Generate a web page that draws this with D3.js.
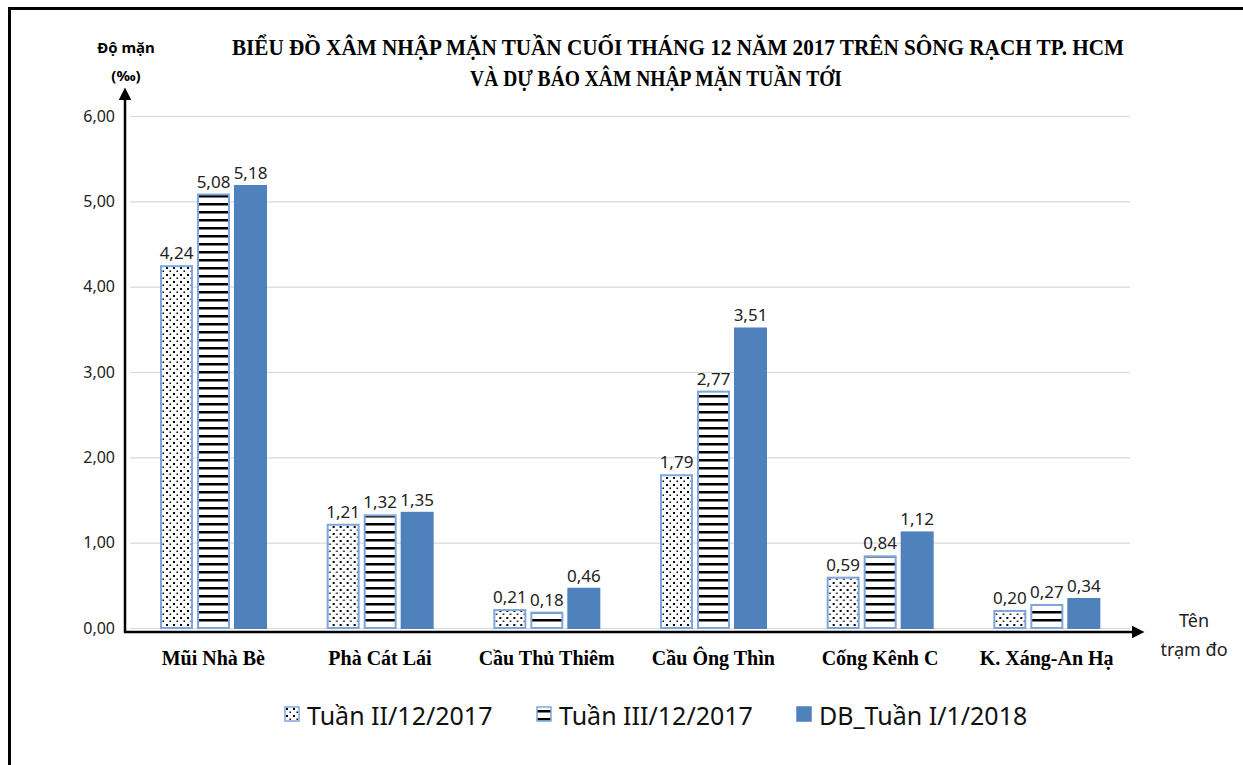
<!DOCTYPE html>
<html>
<head>
<meta charset="utf-8">
<script src="https://cdn.jsdelivr.net/npm/d3@7"></script>
<style>
  body { margin: 0; background: #fff; }
  svg { display: block; }
</style>
</head>
<body>
<div id="chart"></div>
<script>

// data
var stations = ["Mũi Nhà Bè", "Phà Cát Lái", "Cầu Thủ Thiêm", "Cầu Ông Thìn", "Cống Kênh C", "K. Xáng-An Hạ"];
var seriesNames = ["Tuần II/12/2017", "Tuần III/12/2017", "DB_Tuần I/1/2018"];
var week2 = [4.24, 1.21, 0.21, 1.79, 0.59, 0.20];
var week3 = [5.08, 1.32, 0.18, 2.77, 0.84, 0.27];
var forecast = [5.18, 1.35, 0.46, 3.51, 1.12, 0.34];
var yTicks = [0, 1, 2, 3, 4, 5, 6];
var titleLines = ["BIỂU ĐỒ XÂM NHẬP MẶN TUẦN CUỐI THÁNG 12 NĂM 2017 TRÊN SÔNG RẠCH TP. HCM",
                  "VÀ DỰ BÁO XÂM NHẬP MẶN TUẦN TỚI"];

var W = 1243, H = 765;
var sans = "'Noto Sans', 'Open Sans', sans-serif";
var serif = "'Liberation Serif', 'Times New Roman', serif";
var blue = "#4f81bd";
var lightBlue = "#7ea6dc";

var svg = d3.select("#chart").append("svg")
    .attr("width", W)
    .attr("height", H);

// patterns
var defs = svg.append("defs");

var dots = defs.append("pattern")
    .attr("id", "dots")
    .attr("patternUnits", "userSpaceOnUse")
    .attr("width", 7).attr("height", 7);
dots.append("rect").attr("width", 7).attr("height", 7).attr("fill", "#fff");
dots.append("rect").attr("x", 1).attr("y", 1).attr("width", 2).attr("height", 2).attr("fill", "#000");
dots.append("rect").attr("x", 4.5).attr("y", 4.5).attr("width", 1.5).attr("height", 1.5).attr("fill", "#000");

var stripes = defs.append("pattern")
    .attr("id", "stripes")
    .attr("patternUnits", "userSpaceOnUse")
    .attr("width", 8).attr("height", 8);
stripes.append("rect").attr("width", 8).attr("height", 8).attr("fill", "#fff");
stripes.append("rect").attr("y", 3).attr("width", 8).attr("height", 2.5).attr("fill", "#000");

var fills = ["url(#dots)", "url(#stripes)", blue];
var strokes = [lightBlue, lightBlue, blue];

// frame
svg.append("path")
    .attr("d", "M9.5,765 L9.5,8.5 L1243,8.5")
    .attr("fill", "none")
    .attr("stroke", "#000")
    .attr("stroke-width", 3);

// scales
var x = d3.scaleBand()
    .domain(stations)
    .range([130, 1130]);

var x1 = d3.scaleBand()
    .domain(d3.range(3))
    .range([31, 136])
    .paddingInner(0.162);

var y = d3.scaleLinear()
    .domain([0, 6])
    .range([628, 116]);

// gridlines
svg.append("g")
    .selectAll("line")
    .data(yTicks)
    .join("line")
    .attr("x1", 130)
    .attr("x2", 1130)
    .attr("y1", function (d) { return y(d) + 0.5; })
    .attr("y2", function (d) { return y(d) + 0.5; })
    .attr("stroke", "#d9d9d9")
    .attr("stroke-width", 1.2);

// y tick labels
var yAxis = svg.append("g")
    .attr("transform", "translate(125,0)")
    .call(d3.axisLeft(y).tickValues(yTicks).tickSize(0).tickPadding(10)
        .tickFormat(function (d) { return d3.format(".2f")(d).replace(".", ","); }));
yAxis.select(".domain").remove();
yAxis.selectAll("text")
    .style("font-family", sans)
    .style("font-size", "16px")
    .attr("fill", "#222");

// bars
var series = [week2, week3, forecast];
var groups = svg.append("g")
    .selectAll("g")
    .data(stations)
    .join("g")
    .attr("transform", function (d) { return "translate(" + x(d) + ",0)"; });

groups.selectAll("rect")
    .data(function (d, i) { return series.map(function (s, k) { return { k: k, v: s[i] }; }); })
    .join("rect")
    .attr("x", function (d) { return x1(d.k); })
    .attr("width", x1.bandwidth())
    .attr("y", function (d) { return y(d.v); })
    .attr("height", function (d) { return y(0) - y(d.v); })
    .attr("fill", function (d) { return fills[d.k]; })
    .attr("stroke", function (d) { return strokes[d.k]; })
    .attr("stroke-width", 2);

groups.selectAll("text")
    .data(function (d, i) { return series.map(function (s, k) { return { k: k, v: s[i] }; }); })
    .join("text")
    .attr("x", function (d) { return x1(d.k) + x1.bandwidth() / 2; })
    .attr("y", function (d) { return y(d.v) - 7; })
    .attr("text-anchor", "middle")
    .style("font-family", sans)
    .style("font-size", "17px")
    .attr("fill", "#222")
    .text(function (d) { return d3.format(".2f")(d.v).replace(".", ","); });

// axes with arrows
defs.append("marker")
    .attr("id", "arrow")
    .attr("viewBox", "0 0 10 10")
    .attr("refX", 0).attr("refY", 5)
    .attr("markerWidth", 5).attr("markerHeight", 5)
    .attr("markerUnits", "strokeWidth")
    .attr("orient", "auto")
    .append("path")
    .attr("d", "M0,0 L10,5 L0,10 z")
    .attr("fill", "#000");

svg.append("line")
    .attr("x1", 125).attr("y1", 633)
    .attr("x2", 125).attr("y2", 100)
    .attr("stroke", "#000").attr("stroke-width", 2.5)
    .attr("marker-end", "url(#arrow)");

svg.append("line")
    .attr("x1", 124).attr("y1", 632)
    .attr("x2", 1132).attr("y2", 632)
    .attr("stroke", "#000").attr("stroke-width", 2.5)
    .attr("marker-end", "url(#arrow)");

// category labels
svg.append("g")
    .selectAll("text")
    .data(stations)
    .join("text")
    .attr("x", function (d) { return x(d) + x.bandwidth() / 2; })
    .attr("y", 665)
    .attr("text-anchor", "middle")
    .style("font-family", serif)
    .style("font-weight", "bold")
    .style("font-size", "20px")
    .text(function (d) { return d; });

// title: squeeze each line to its width in the picture
var titleX = [678, 656];
var titleY = [55, 86];
var titleW = [893, 372];
var title = svg.append("g")
    .selectAll("text")
    .data(titleLines)
    .join("text")
    .attr("text-anchor", "middle")
    .style("font-family", serif)
    .style("font-weight", "bold")
    .style("font-size", "24px")
    .text(function (d) { return d; });

title.attr("transform", function (d, i) {
    var sx = titleW[i] / this.getComputedTextLength();
    return "translate(" + titleX[i] + "," + titleY[i] + ") scale(" + sx + ",1)";
});

// axis titles
svg.append("text")
    .attr("x", 126).attr("y", 53)
    .attr("text-anchor", "middle")
    .style("font-family", sans).style("font-weight", "bold").style("font-size", "15px")
    .text("Độ mặn");
svg.append("text")
    .attr("x", 126).attr("y", 81)
    .attr("text-anchor", "middle")
    .style("font-family", sans).style("font-weight", "bold").style("font-size", "15px")
    .text("(‰)");

svg.append("text")
    .attr("x", 1194).attr("y", 627)
    .attr("text-anchor", "middle")
    .style("font-family", sans).style("font-size", "18px").attr("fill", "#222")
    .text("Tên");
svg.append("text")
    .attr("x", 1194).attr("y", 656)
    .attr("text-anchor", "middle")
    .style("font-family", sans).style("font-size", "18px").attr("fill", "#222")
    .text("trạm đo");

// legend
var legendX = [285, 537, 797];
var legend = svg.append("g")
    .selectAll("g")
    .data(seriesNames)
    .join("g")
    .attr("transform", function (d, i) { return "translate(" + legendX[i] + ",707)"; });

legend.append("rect")
    .attr("width", 14).attr("height", 14)
    .attr("fill", function (d, i) { return fills[i]; })
    .attr("stroke", function (d, i) { return strokes[i]; })
    .attr("stroke-width", 1.5);

legend.append("text")
    .attr("x", 22).attr("y", 18)
    .style("font-family", sans)
    .style("font-size", "25px")
    .attr("fill", "#111")
    .text(function (d) { return d; });

</script>
</body>
</html>
